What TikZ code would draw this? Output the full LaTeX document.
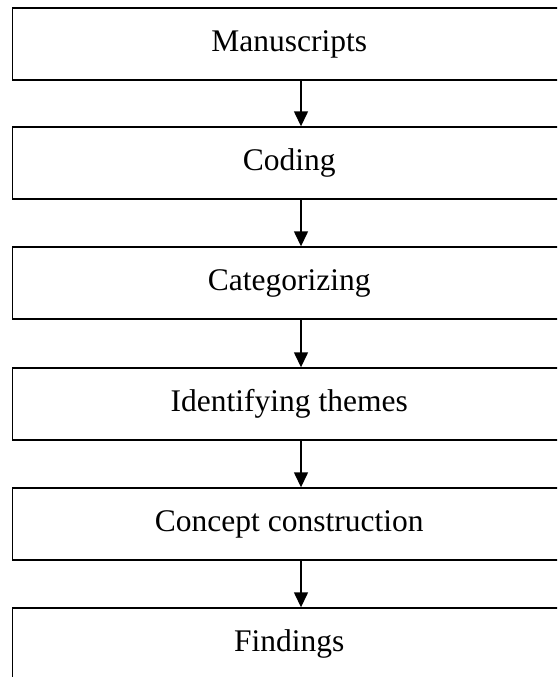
\documentclass[tikz,border=0pt]{standalone}
\usepackage{fontspec}
\setmainfont{Liberation Serif}
\usetikzlibrary{arrows.meta}
\begin{document}
\begin{tikzpicture}[x=1pt,y=1pt,
  stagebox/.style={draw, line width=1.4pt, rectangle, minimum width=553.5pt, minimum height=72pt, inner sep=0pt, font=\fontsize{31.5}{36}\selectfont},
  flowarrow/.style={line width=1.4pt, -{Triangle[length=15pt,width=14pt]}}]
\useasboundingbox (0,0) rectangle (557,-677);
\clip (0,0) rectangle (557,-677);
\coordinate (ax) at (301,0);
\node[stagebox] (b1) at (289.25,-44) {Manuscripts};
\node[stagebox] (b2) at (289.25,-163) {Coding};
\node[stagebox] (b3) at (289.25,-283) {Categorizing};
\node[stagebox] (b4) at (289.25,-404) {Identifying themes};
\node[stagebox] (b5) at (289.25,-524) {Concept construction};
\node[stagebox] (b6) at (289.25,-644) {Findings};
\draw[flowarrow] (b1.south -| ax) -- (b2.north -| ax);
\draw[flowarrow] (b2.south -| ax) -- (b3.north -| ax);
\draw[flowarrow] (b3.south -| ax) -- (b4.north -| ax);
\draw[flowarrow] (b4.south -| ax) -- (b5.north -| ax);
\draw[flowarrow] (b5.south -| ax) -- (b6.north -| ax);
\end{tikzpicture}
\end{document}
